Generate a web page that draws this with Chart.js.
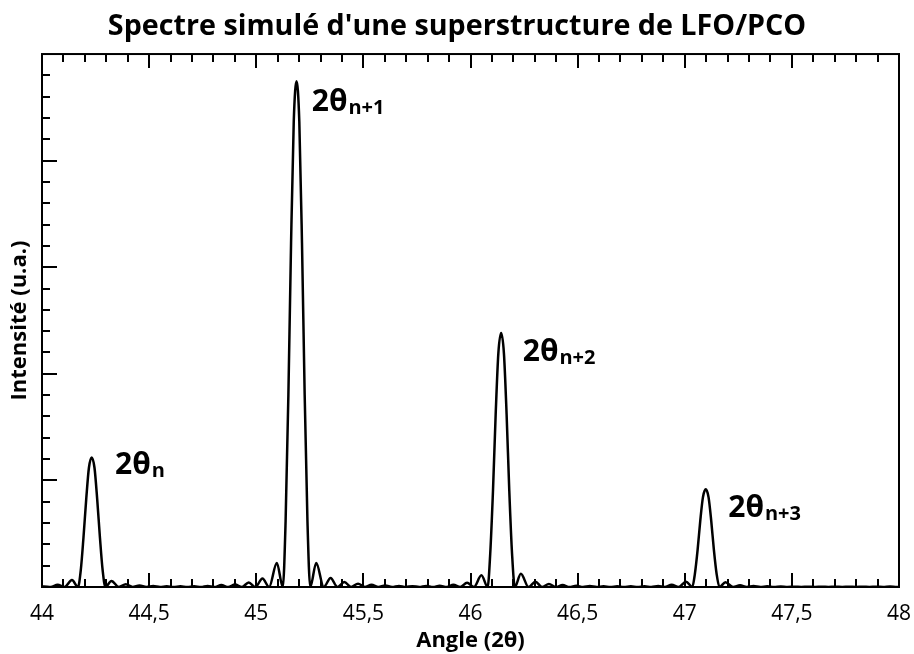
<!DOCTYPE html>
<html><head><meta charset="utf-8">
<script src="https://cdn.jsdelivr.net/npm/chart.js@4/dist/chart.umd.min.js"></script>
<style>html,body{margin:0;padding:0;background:#fff;}#wrap{width:914px;height:654px;}</style>
</head><body><div id="wrap"><canvas id="c" width="914" height="654"></canvas></div>
<script>
const angles = [
44.000,44.009,44.041,44.073,44.105,44.140,44.168,
44.181,44.1935,44.2065,44.219,44.232,44.245,44.2575,44.2705,44.283,44.296,
44.324,44.359,44.391,44.423,44.455,44.487,44.519,44.551,44.582,44.614,44.646,44.678,
44.710,44.742,44.773,44.805,44.837,44.869,44.901,44.933,44.965,44.996,45.029,45.060,45.096,45.124,
45.137,45.150,45.1625,45.175,45.188,45.201,45.2135,45.226,45.239,45.252,
45.280,45.315,45.347,45.379,45.411,45.443,45.475,45.507,45.538,45.570,45.602,45.634,45.666,45.698,
45.729,45.761,45.793,45.825,45.856,45.889,45.920,45.952,45.984,46.016,46.051,46.080,
46.092,46.105,46.1175,46.130,46.143,46.156,46.1685,46.181,46.194,46.207,
46.235,46.271,46.303,46.334,46.366,46.398,46.430,46.462,46.494,46.525,46.557,46.589,46.621,46.653,
46.685,46.716,46.748,46.780,46.812,46.844,46.876,46.907,46.939,46.971,47.006,47.035,
47.047,47.060,47.0725,47.085,47.098,47.111,47.1235,47.136,47.149,47.162,
47.190,47.226,47.258,47.289,47.321,47.353,47.385,47.417,47.448,47.480,47.512,47.544,47.576,47.608,
47.640,47.671,47.703,47.735,47.767,47.799,47.830,47.862,47.894,47.926,47.958,47.990,48.000
];
const intensities = [
0.004,0.005,0,0.02,0,0.065,0,
0.158,0.462,0.827,1.119,1.216,1.119,0.827,0.462,0.158,0,
0.056,0,0.025,0,0.013,0,0.009,0,0.007,0,0.006,0,
0.007,0,0.010,0,0.018,0,0.024,0,0.042,0,0.080,0,0.225,0,
0.617,1.803,3.227,4.365,4.745,4.365,3.227,1.803,0.617,0,
0.225,0,0.084,0,0.047,0,0.031,0,0.020,0,0.014,0,0.010,0,
0.008,0,0.010,0,0.012,0,0.020,0,0.040,0,0.110,0,
0.310,0.906,1.620,2.192,2.383,2.192,1.620,0.906,0.310,0,
0.125,0,0.050,0,0.028,0,0.018,0,0.012,0,0.009,0,0.007,0,
0.006,0,0.006,0,0.007,0,0.009,0,0.020,0,0.050,0,
0.119,0.348,0.623,0.843,0.916,0.843,0.623,0.348,0.119,0,
0.045,0,0.016,0,0.009,0,0.006,0,0.004,0,0.003,0,0.003,0,
0.003,0,0.003,0,0.003,0,0.003,0,0.003,0,0.004,0,0.001
];
const xTickLabels = ['44','44,5','45','45,5','46','46,5','47','47,5','48'];
const peakMain = ['2θ','2θ','2θ','2θ'];
const peakSub = ['n','n+1','n+2','n+3'];
const peakLabelX = [44.341, 45.259, 46.244, 47.203];
const peakLabelY = [1.059, 4.47, 2.121, 0.659];

const FONT = "'Open Sans', 'DejaVu Sans', sans-serif";

const frameTicks = {
  id: 'frameTicks',
  afterDraw(chart) {
    const ctx = chart.ctx, a = chart.chartArea;
    const xs = chart.scales.x, ys = chart.scales.y;
    ctx.save();
    ctx.strokeStyle = '#000';
    ctx.lineWidth = 2;
    ctx.beginPath();
    for (let i = 1; i < 40; i++) {
      const px = Math.round(xs.getPixelForValue(44 + i * 0.1));
      const L = (i % 5 === 0) ? 14 : 8;
      ctx.moveTo(px, a.bottom); ctx.lineTo(px, a.bottom - L);
      ctx.moveTo(px, a.top); ctx.lineTo(px, a.top + L);
    }
    for (let j = 1; j < 25; j++) {
      const py = Math.round(ys.getPixelForValue(j * 0.2));
      const L = (j % 5 === 0) ? 15 : 8;
      ctx.moveTo(a.left, py); ctx.lineTo(a.left + L, py);
    }
    ctx.stroke();
    ctx.strokeRect(a.left, a.top, a.right - a.left, a.bottom - a.top);
    ctx.restore();
  },
  afterDatasetsDraw(chart) {
    const ctx = chart.ctx;
    const xs = chart.scales.x, ys = chart.scales.y;
    ctx.save();
    ctx.fillStyle = '#000';
    ctx.textBaseline = 'alphabetic';
    ctx.textAlign = 'left';
    for (let k = 0; k < peakMain.length; k++) {
      const px = xs.getPixelForValue(peakLabelX[k]);
      const py = ys.getPixelForValue(peakLabelY[k]);
      ctx.font = "bold 30px " + FONT;
      ctx.fillText(peakMain[k], px, py);
      const w = ctx.measureText(peakMain[k]).width;
      ctx.font = "bold 20px " + FONT;
      ctx.fillText(peakSub[k], px + w + 1, py + 3);
    }
    ctx.restore();
  }
};

new Chart(document.getElementById('c'), {
  type: 'line',
  data: {
    datasets: [{
      data: angles.map((a, i) => ({x: a, y: intensities[i]})),
      borderColor: '#000',
      borderWidth: 2.5,
      pointRadius: 0,
      fill: false,
      cubicInterpolationMode: 'monotone'
    }]
  },
  options: {
    responsive: false,
    devicePixelRatio: 1,
    animation: false,
    layout: {padding: 0},
    plugins: {
      legend: {display: false},
      tooltip: {enabled: false},
      title: {
        display: true,
        text: "Spectre simulé d'une superstructure de LFO/PCO",
        color: '#000',
        font: {family: FONT, size: 28.7, weight: 'bold', lineHeight: 1.2},
        padding: {top: 10, bottom: 9.6}
      }
    },
    scales: {
      x: {
        type: 'linear', min: 44, max: 48,
        grid: {display: false, drawTicks: false},
        border: {display: false},
        ticks: {
          stepSize: 0.5, padding: 14, color: '#000',
          font: {family: FONT, size: 21},
          callback: (v, i) => xTickLabels[i]
        },
        title: {display: true, text: 'Angle (2θ)', color: '#000',
          font: {family: FONT, size: 22, weight: 'bold', lineHeight: 1.2},
          padding: {top: 1, bottom: 0}},
        afterFit: s => { s.height = 67; s.paddingLeft = 0; s.paddingRight = 15; }
      },
      y: {
        type: 'linear', min: 0, max: 5,
        grid: {display: false, drawTicks: false},
        border: {display: false},
        ticks: {display: false},
        title: {display: true, text: 'Intensité (u.a.)', color: '#000',
          font: {family: FONT, size: 22, weight: 'bold', lineHeight: 1.2},
          padding: {top: 7, bottom: 0}},
        afterFit: s => { s.width = 42; }
      }
    }
  },
  plugins: [frameTicks]
});
</script>
</body></html>
